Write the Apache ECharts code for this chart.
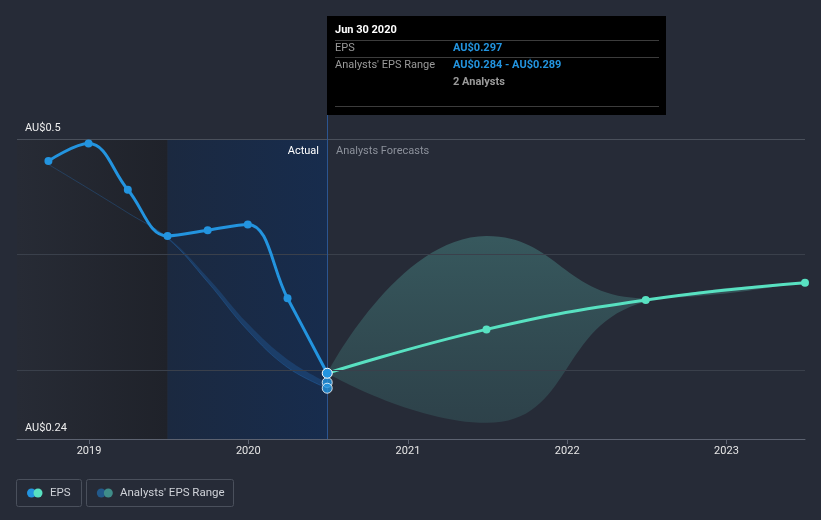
<!DOCTYPE html>
<html>
<head>
<meta charset="utf-8">
<script src="https://cdn.jsdelivr.net/npm/echarts@6/dist/echarts.min.js"></script>
<style>
  html, body { margin: 0; padding: 0; background: #262b37; }
  #chart { width: 821px; height: 520px; }
</style>
</head>
<body>
<div id="chart"></div>
<script>
// actual EPS, quarterly
const actualDates = ['2018-09-30', '2018-12-31', '2019-03-31', '2019-06-30', '2019-09-30', '2019-12-31', '2020-03-31', '2020-06-30']
const actualEps = [0.481, 0.496, 0.456, 0.416, 0.421, 0.426, 0.362, 0.297]
// past analyst range (thin band)
const pastLow = [0.478, 0.457, 0.436, 0.414, 0.376, 0.334, 0.302, 0.284]
const pastHigh = [0.478, 0.457, 0.436, 0.415, 0.380, 0.340, 0.309, 0.289]
// forecasts
const fcDates = ['2020-06-30', '2021-06-30', '2022-06-30', '2023-06-30']
const fcEps = [0.297, 0.335, 0.3605, 0.3755]
const fcLow = [0.297, 0.254, 0.359, 0.3745]
const fcHigh = [0.297, 0.416, 0.362, 0.3765]
// range shown at the latest actual
const rangeNowDate = '2020-06-30'
const rangeNow = [0.289, 0.284]
// y axis
const yLabels = [0.5, 0.24]
const yGrid = [0.4, 0.3]

const xMin = '2018-07-20'
const xMax = '2023-06-30'
const pastEnd = '2019-06-30'
const nowDate = '2020-06-30'

const font = 'Roboto, "Noto Sans", sans-serif'
const blue = '#2394df'
const teal = '#58e1c1'

const pair = (dates, vals) => dates.map((d, i) => [d, vals[i]])
const diff = (dates, hi, lo) => dates.map((d, i) => [d, +(hi[i] - lo[i]).toFixed(4)])

const chart = echarts.init(document.getElementById('chart'))

chart.setOption({
  backgroundColor: '#262b37',
  animation: false,
  grid: { left: 17, right: 16, top: 139, bottom: 81 },
  xAxis: {
    type: 'time',
    min: xMin,
    max: xMax,
    splitNumber: 5,
    axisLine: { lineStyle: { color: '#5c6270', width: 1 } },
    axisTick: { show: true, length: 5, lineStyle: { color: '#5c6270' } },
    axisLabel: { formatter: '{yyyy}', color: '#e6e6e6', fontSize: 11, fontFamily: font, margin: 7 },
    splitLine: { show: false }
  },
  yAxis: {
    type: 'value',
    min: 0.24,
    max: 0.5,
    interval: 0.26,
    axisLine: { show: false },
    axisTick: { show: false },
    axisLabel: { show: false },
    splitLine: { show: false }
  },
  series: [
    {
      // background regions + grid lines
      type: 'line',
      data: [],
      silent: true,
      markArea: {
        silent: true,
        data: [
          [{ xAxis: xMin, itemStyle: { color: new echarts.graphic.LinearGradient(0, 0, 1, 0, [{ offset: 0, color: '#272b35' }, { offset: 1, color: '#1f222a' }]) } }, { xAxis: pastEnd }],
          [{ xAxis: pastEnd, itemStyle: { color: new echarts.graphic.LinearGradient(0, 0, 1, 0, [{ offset: 0, color: '#1b2940' }, { offset: 1, color: '#172c4d' }]) } }, { xAxis: nowDate }]
        ]
      },
      markLine: {
        silent: true,
        symbol: 'none',
        data: [
          ...yGrid.map(v => ({ yAxis: v, label: { show: false }, lineStyle: { color: '#3a404b', type: 'solid', width: 1 } })),
          ...yLabels.map(v => ({
            yAxis: v,
            lineStyle: { color: v === yLabels[0] ? '#4a505b' : '#5c6270', type: 'solid', width: 1 },
            label: {
              show: true,
              position: 'insideStartTop',
              distance: [8, 5],
              formatter: 'AU$' + v,
              color: '#eeeeee',
              fontSize: 11,
              fontFamily: font
            }
          })),
          { xAxis: nowDate, label: { show: false }, lineStyle: { color: '#2b5591', type: 'solid', width: 1 } }
        ]
      }
    },
    {
      name: 'pastLow',
      type: 'line',
      stack: 'past',
      smooth: 0.4,
      symbol: 'none',
      lineStyle: { color: 'rgba(40,120,200,0.3)', width: 1 },
      data: pair(actualDates, pastLow),
      z: 3
    },
    {
      name: 'pastBand',
      type: 'line',
      stack: 'past',
      smooth: 0.4,
      symbol: 'none',
      lineStyle: { width: 0 },
      areaStyle: { color: 'rgba(35,110,190,0.4)' },
      data: diff(actualDates, pastHigh, pastLow),
      z: 3
    },
    {
      name: 'fcLow',
      type: 'line',
      stack: 'fc',
      smooth: 0.5,
      symbol: 'none',
      lineStyle: { width: 0 },
      data: pair(fcDates, fcLow),
      z: 2
    },
    {
      name: 'fcBand',
      type: 'line',
      stack: 'fc',
      smooth: 0.5,
      symbol: 'none',
      lineStyle: { width: 0 },
      areaStyle: {
        color: new echarts.graphic.LinearGradient(0, 0, 0, 1, [
          { offset: 0, color: 'rgba(80,155,150,0.58)' },
          { offset: 1, color: 'rgba(62,115,115,0.45)' }
        ])
      },
      data: diff(fcDates, fcHigh, fcLow),
      z: 2
    },
    {
      name: 'EPS forecast',
      type: 'line',
      smooth: 0.45,
      symbol: 'circle',
      symbolSize: 8,
      showSymbol: true,
      itemStyle: { color: teal },
      lineStyle: { color: teal, width: 3 },
      data: pair(fcDates, fcEps).map((p, i) => i === 0 ? { value: p, symbol: 'none' } : p),
      z: 4
    },
    {
      name: 'EPS',
      type: 'line',
      smooth: 0.4,
      symbol: 'circle',
      symbolSize: 8,
      itemStyle: { color: blue },
      lineStyle: { color: blue, width: 3 },
      data: pair(actualDates, actualEps).map((p, i) => i === actualDates.length - 1
        ? { value: p, symbolSize: 10, itemStyle: { color: blue, borderColor: '#ffffff', borderWidth: 1 } }
        : p),
      z: 6
    },
    {
      name: 'rangeNow',
      type: 'scatter',
      symbolSize: 10,
      itemStyle: { color: blue, borderColor: '#ffffff', borderWidth: 1 },
      data: rangeNow.map(v => [rangeNowDate, v]),
      z: 5
    }
  ],
  graphic: [
    // vertical marker above the grid
    { type: 'line', shape: { x1: 327.5, y1: 115, x2: 327.5, y2: 139 }, style: { stroke: '#2b5591', lineWidth: 1 }, silent: true },
    { type: 'text', x: 319, y: 146, z: 100, style: { text: 'Actual', fill: '#ffffff', font: '11px ' + font, align: 'right' } },
    { type: 'text', x: 336, y: 146, z: 100, style: { text: 'Analysts Forecasts', fill: '#8c919b', font: '11px ' + font } },
    // tooltip box
    {
      type: 'group',
      x: 327,
      y: 16,
      children: [
        { type: 'rect', shape: { x: 0, y: 0, width: 339, height: 99 }, style: { fill: '#000000' } },
        { type: 'text', x: 8, y: 9, style: { text: 'Jun 30 2020', fill: '#ffffff', font: 'bold 11px ' + font } },
        { type: 'line', shape: { x1: 8, y1: 24.5, x2: 332, y2: 24.5 }, style: { stroke: '#3c3c3c', lineWidth: 1 } },
        { type: 'text', x: 8, y: 27, style: { text: 'EPS', fill: '#9a9a9a', font: '11px ' + font } },
        { type: 'text', x: 126, y: 27, style: { text: 'AU$0.297', fill: blue, font: 'bold 11px ' + font } },
        { type: 'line', shape: { x1: 8, y1: 41.5, x2: 332, y2: 41.5 }, style: { stroke: '#3c3c3c', lineWidth: 1 } },
        { type: 'text', x: 8, y: 44, style: { text: "Analysts' EPS Range", fill: '#9a9a9a', font: '11px ' + font } },
        { type: 'text', x: 126, y: 44, style: { text: 'AU$0.284 - AU$0.289', fill: blue, font: 'bold 11px ' + font } },
        { type: 'text', x: 126, y: 61, style: { text: '2 Analysts', fill: '#9a9a9a', font: 'bold 11px ' + font } },
        { type: 'line', shape: { x1: 8, y1: 90.5, x2: 332, y2: 90.5 }, style: { stroke: '#3c3c3c', lineWidth: 1 } }
      ]
    },
    // legend
    {
      type: 'group',
      x: 16,
      y: 479,
      children: [
        { type: 'rect', shape: { x: 0.5, y: 0.5, width: 65, height: 27, r: 2 }, style: { fill: 'none', stroke: '#4a505c', lineWidth: 1 } },
        { type: 'circle', shape: { cx: 15.5, cy: 14, r: 4.5 }, style: { fill: blue } },
        { type: 'circle', shape: { cx: 22, cy: 14, r: 4.5 }, style: { fill: teal } },
        { type: 'text', x: 34, y: 8, style: { text: 'EPS', fill: '#cfd2d8', font: '11.5px ' + font } },
        { type: 'rect', shape: { x: 70.5, y: 0.5, width: 147, height: 27, r: 2 }, style: { fill: 'none', stroke: '#4a505c', lineWidth: 1 } },
        { type: 'circle', shape: { cx: 85.3, cy: 14, r: 4.5 }, style: { fill: '#22598a' } },
        { type: 'circle', shape: { cx: 92.3, cy: 14, r: 4.5 }, style: { fill: '#3f8d89' } },
        { type: 'text', x: 104, y: 8, style: { text: "Analysts' EPS Range", fill: '#cfd2d8', font: '11.5px ' + font } }
      ]
    }
  ]
})
</script>
</body>
</html>
